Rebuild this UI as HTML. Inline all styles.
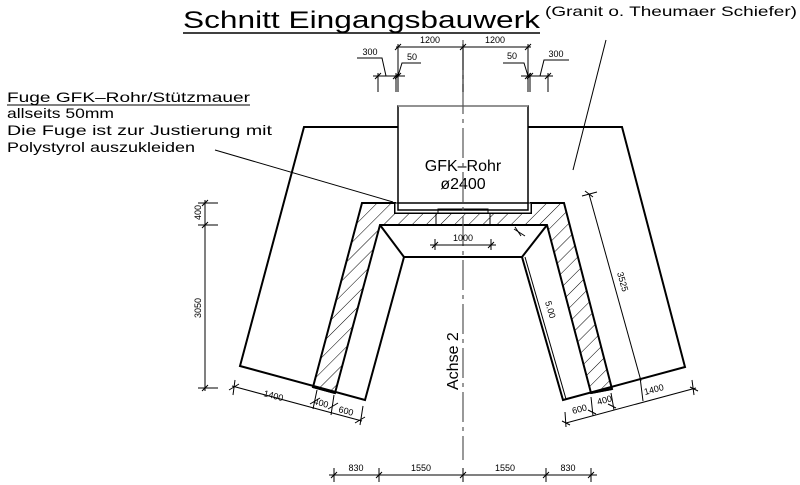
<!DOCTYPE html>
<html><head><meta charset="utf-8"><style>
html,body{margin:0;padding:0;background:#fff}
svg{display:block}
text{font-family:"Liberation Sans",sans-serif;fill:#000}
</style></head><body>
<svg width="800" height="485" viewBox="0 0 800 485" xmlns="http://www.w3.org/2000/svg">
<defs>
<pattern id="h" patternUnits="userSpaceOnUse" width="10" height="10" patternTransform="rotate(45)">
<line x1="0" y1="0" x2="0" y2="10" stroke="#000" stroke-width="1"/>
</pattern>
</defs>
<text x="183" y="28" font-size="24" textLength="357" lengthAdjust="spacingAndGlyphs">Schnitt Eingangsbauwerk</text>
<line x1="183" y1="33" x2="540" y2="33" stroke="#000" stroke-width="1.5"/>
<text x="545" y="16" font-size="14" textLength="252" lengthAdjust="spacingAndGlyphs">(Granit o. Theumaer Schiefer)</text>
<line x1="606" y1="40" x2="573" y2="170" stroke="#000" stroke-width="1"/>
<text x="7" y="102" font-size="14" textLength="243" lengthAdjust="spacingAndGlyphs">Fuge GFK–Rohr/Stützmauer</text>
<line x1="7" y1="105" x2="250" y2="105" stroke="#000" stroke-width="1"/>
<text x="7" y="118" font-size="14" textLength="107" lengthAdjust="spacingAndGlyphs">allseits 50mm</text>
<text x="7" y="135" font-size="14" textLength="265" lengthAdjust="spacingAndGlyphs">Die Fuge ist zur Justierung mit</text>
<text x="7" y="152" font-size="14" textLength="188" lengthAdjust="spacingAndGlyphs">Polystyrol auszukleiden</text>
<line x1="215" y1="150" x2="393" y2="202" stroke="#000" stroke-width="1"/>

<path d="M362,203 L395,203 L395,213 L531,213 L531,203 L564,203 L612,389 L591,393 L547,225 L380,225 L335,393 L313,387 Z" fill="url(#h)" stroke="#000" stroke-width="2"/>
<path d="M398,127 L304,127 L240,366 L365,400 L404,257 L522,257 L563,400 L685,367 L622,127 L528,127" fill="none" stroke="#000" stroke-width="2"/>
<path d="M380,225 L404,257 M547,225 L522,257" stroke="#000" stroke-width="2"/>
<line x1="525" y1="257" x2="566" y2="399" stroke="#000" stroke-width="1"/>
<line x1="313" y1="387" x2="335" y2="393" stroke="#000" stroke-width="2"/>
<line x1="591" y1="393" x2="612" y2="389" stroke="#000" stroke-width="2"/>
<rect x="398" y="106" width="130" height="104" fill="#fff" stroke="#000" stroke-width="1.5"/>
<line x1="398" y1="106" x2="528" y2="106" stroke="#999" stroke-width="1.5"/>
<rect x="395" y="203" width="136" height="10" fill="#fff" stroke="#000" stroke-width="1"/>
<rect x="398" y="203" width="130" height="7" fill="#fff" stroke="#000" stroke-width="1.5"/>
<rect x="438" y="209" width="50" height="4" fill="none" stroke="#000" stroke-width="1"/>
<line x1="436" y1="213" x2="436" y2="225" stroke="#000" stroke-width="1"/>
<line x1="490" y1="213" x2="490" y2="225" stroke="#000" stroke-width="1"/>
<text x="463" y="171" font-size="16" text-anchor="middle">GFK–Rohr</text>
<text x="463" y="189" font-size="16" text-anchor="middle">ø2400</text>
<line x1="463" y1="40" x2="463" y2="460" stroke="#555" stroke-width="1.2" stroke-dasharray="30,5,4,5"/>
<text transform="translate(458,390) rotate(-90)" font-size="16">Achse 2</text>

<g stroke="#000" stroke-width="1" fill="none">
<line x1="396" y1="47" x2="531" y2="47"/>
<path d="M395,50 L401,44 M460,50 L466,44 M525,50 L531,44"/>
<line x1="398" y1="44" x2="398" y2="92"/><line x1="463" y1="44" x2="463" y2="92"/><line x1="528" y1="44" x2="528" y2="92"/>
<line x1="373" y1="76" x2="405" y2="76"/>
<line x1="521" y1="76" x2="553" y2="76"/>
<line x1="378" y1="73" x2="378" y2="92"/><line x1="396" y1="73" x2="396" y2="92"/>
<line x1="530" y1="73" x2="530" y2="92"/><line x1="548" y1="73" x2="548" y2="92"/>
<path d="M375,79 L381,73 M393,79 L399,73 M395,79 L401,73 M525,79 L531,73 M527,79 L533,73 M545,79 L551,73"/>
<path d="M357,58 L382,58 L386,76 M398,76 L402,63 L421,63"/>
<path d="M503,63 L524,63 L528,76 M540,76 L544,60 L569,60"/>
<!-- 1000 dim -->
<line x1="430" y1="245" x2="496" y2="245"/>
<path d="M435,239 L435,250 M491,239 L491,250 M432,248 L438,242 M488,248 L494,242"/>
<line x1="205" y1="200" x2="205" y2="391"/>
<path d="M198,203 L218,203 M198,225 L218,225 M198,388 L218,388 M202,206 L208,200 M202,228 L208,222 M202,391 L208,385"/>
<line x1="232" y1="386" x2="362" y2="421"/>
<path d="M235,380 L233,395 M317,390 L313,409 M334,395 L331,415 M363,406 L360,425 M229,390 L239,384 M310,404 L320,398 M328,409 L338,403 M355,423 L365,417"/>
<line x1="566" y1="423" x2="696" y2="388"/>
<path d="M565,412 L566,427 M591,397 L593,416 M611,393 L614,410 M640,377 L643,401 M692,380 L694,395 M562,421 L570,425 M588,410 L596,414 M608,404 L616,408 M690,387 L698,391"/>
<line x1="589" y1="194" x2="641" y2="381"/>
<path d="M582,196 L597,192 M585,191 L593,197"/>
<line x1="514" y1="229" x2="525" y2="236"/>
<path d="M515,227 L521,236"/>
<line x1="329" y1="475" x2="597" y2="475"/>
<path d="M334,468 L334,482 M379,468 L379,482 M463,468 L463,482 M546,468 L546,482 M591,468 L591,482 M331,478 L337,472 M376,478 L382,472 M460,478 L466,472 M543,478 L549,472 M588,478 L594,472"/>
</g>
<g font-size="9">
<text x="430" y="43" text-anchor="middle">1200</text>
<text x="495" y="43" text-anchor="middle">1200</text>
<text x="370" y="55" text-anchor="middle">300</text>
<text x="412" y="60" text-anchor="middle">50</text>
<text x="512" y="59" text-anchor="middle">50</text>
<text x="556" y="57" text-anchor="middle">300</text>
<text x="463" y="241" text-anchor="middle">1000</text>
<text x="356" y="471" text-anchor="middle">830</text>
<text x="421" y="471" text-anchor="middle">1550</text>
<text x="505" y="471" text-anchor="middle">1550</text>
<text x="568" y="471" text-anchor="middle">830</text>
<text transform="translate(201,220) rotate(-90)">400</text>
<text transform="translate(201,318) rotate(-90)">3050</text>
<text transform="translate(263,396) rotate(15)">1400</text>
<text transform="translate(313,404) rotate(15)">400</text>
<text transform="translate(338,412) rotate(15)">600</text>
<text transform="translate(573,414) rotate(-15)">600</text>
<text transform="translate(598,405) rotate(-15)">400</text>
<text transform="translate(645,395) rotate(-15)">1400</text>
<text transform="translate(617,273) rotate(74)">3525</text>
<text transform="translate(545,302) rotate(74)">5.00</text>
</g>
</svg>
</body></html>
